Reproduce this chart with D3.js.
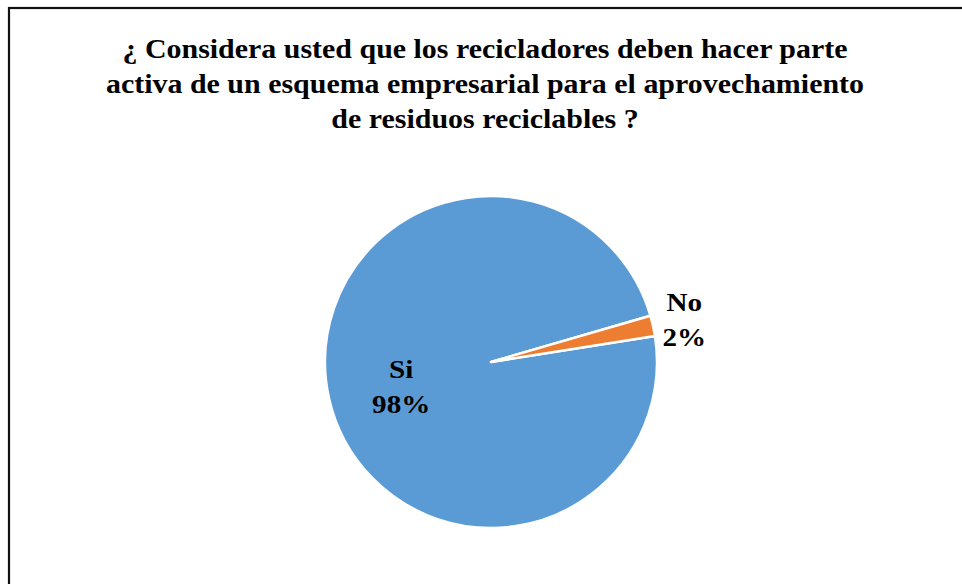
<!DOCTYPE html>
<meta charset="utf-8">
<style>
body { margin: 0; background: #fff; }
text { font-family: "Liberation Serif", "Times New Roman", serif; font-weight: bold; fill: #000; }
</style>
<body>
<script src="https://cdn.jsdelivr.net/npm/d3@7"></script>
<script>

// data
var categories = ["Si", "No"];
var values = [98, 2];
var labels = ["98%", "2%"];
var titleLines = [
  "\u00bf Considera usted que los recicladores deben hacer parte",
  "activa de un esquema empresarial para el aprovechamiento",
  "de residuos reciclables ?"
];
var colors = ["#5b9bd5", "#ed7d31"];

var width = 962, height = 584;
var cx = 491, cy = 362, radius = 166;

var svg = d3.select("body").append("svg")
    .attr("width", width)
    .attr("height", height);

// chart border (runs off the page on right / bottom)
svg.append("rect")
    .attr("x", 9)
    .attr("y", 8)
    .attr("width", 1000)
    .attr("height", 1000)
    .attr("fill", "none")
    .attr("stroke", "#111")
    .attr("stroke-width", 2.2);

// title - the original glyphs are a bit wide, so stretch horizontally
svg.append("g")
    .attr("transform", "translate(485,0) scale(1.13,1)")
  .selectAll("text")
    .data(titleLines)
  .enter().append("text")
    .attr("x", 0)
    .attr("y", function(d, i) { return 58 + i * 35; })
    .attr("text-anchor", "middle")
    .style("font-size", "26.5px")
    .text(function(d) { return d; });

// pie, rotated so the first slice starts at ~81deg
var start = 81 * Math.PI / 180;
var pie = d3.pie()
    .sort(null)
    .startAngle(start)
    .endAngle(start + 2 * Math.PI);

var arcs = pie(values);

var arc = d3.arc().innerRadius(0).outerRadius(radius);

var g = svg.append("g")
    .attr("transform", "translate(" + cx + "," + cy + ")");

g.selectAll("path")
    .data(arcs)
  .enter().append("path")
    .attr("d", arc)
    .attr("fill", function(d, i) { return colors[i]; })
    .attr("stroke", "#fff")
    .attr("stroke-width", 2.5)
    .attr("stroke-linejoin", "round");

// data labels: inside for big slice, outside for small one
var inArc = d3.arc().innerRadius(184).outerRadius(0);
var outArc = d3.arc().innerRadius(radius + 32).outerRadius(radius + 32);

var lab = g.selectAll(".lab")
    .data(arcs)
  .enter().append("text")
    .attr("class", "lab")
    .attr("text-anchor", "middle")
    .style("font-size", "26px")
    .attr("transform", function(d, i) {
      var c = i === 0 ? inArc.centroid(d) : outArc.centroid(d);
      var off = i === 0 ? -4 : -8;
      return "translate(" + c[0] + "," + (c[1] + off) + ") scale(1.12,1)";
    });

lab.append("tspan")
    .attr("x", 0)
    .attr("dy", 0)
    .text(function(d, i) { return categories[i]; });
lab.append("tspan")
    .attr("x", 0)
    .attr("dy", 35)
    .text(function(d, i) { return labels[i]; });

</script>
</body>
